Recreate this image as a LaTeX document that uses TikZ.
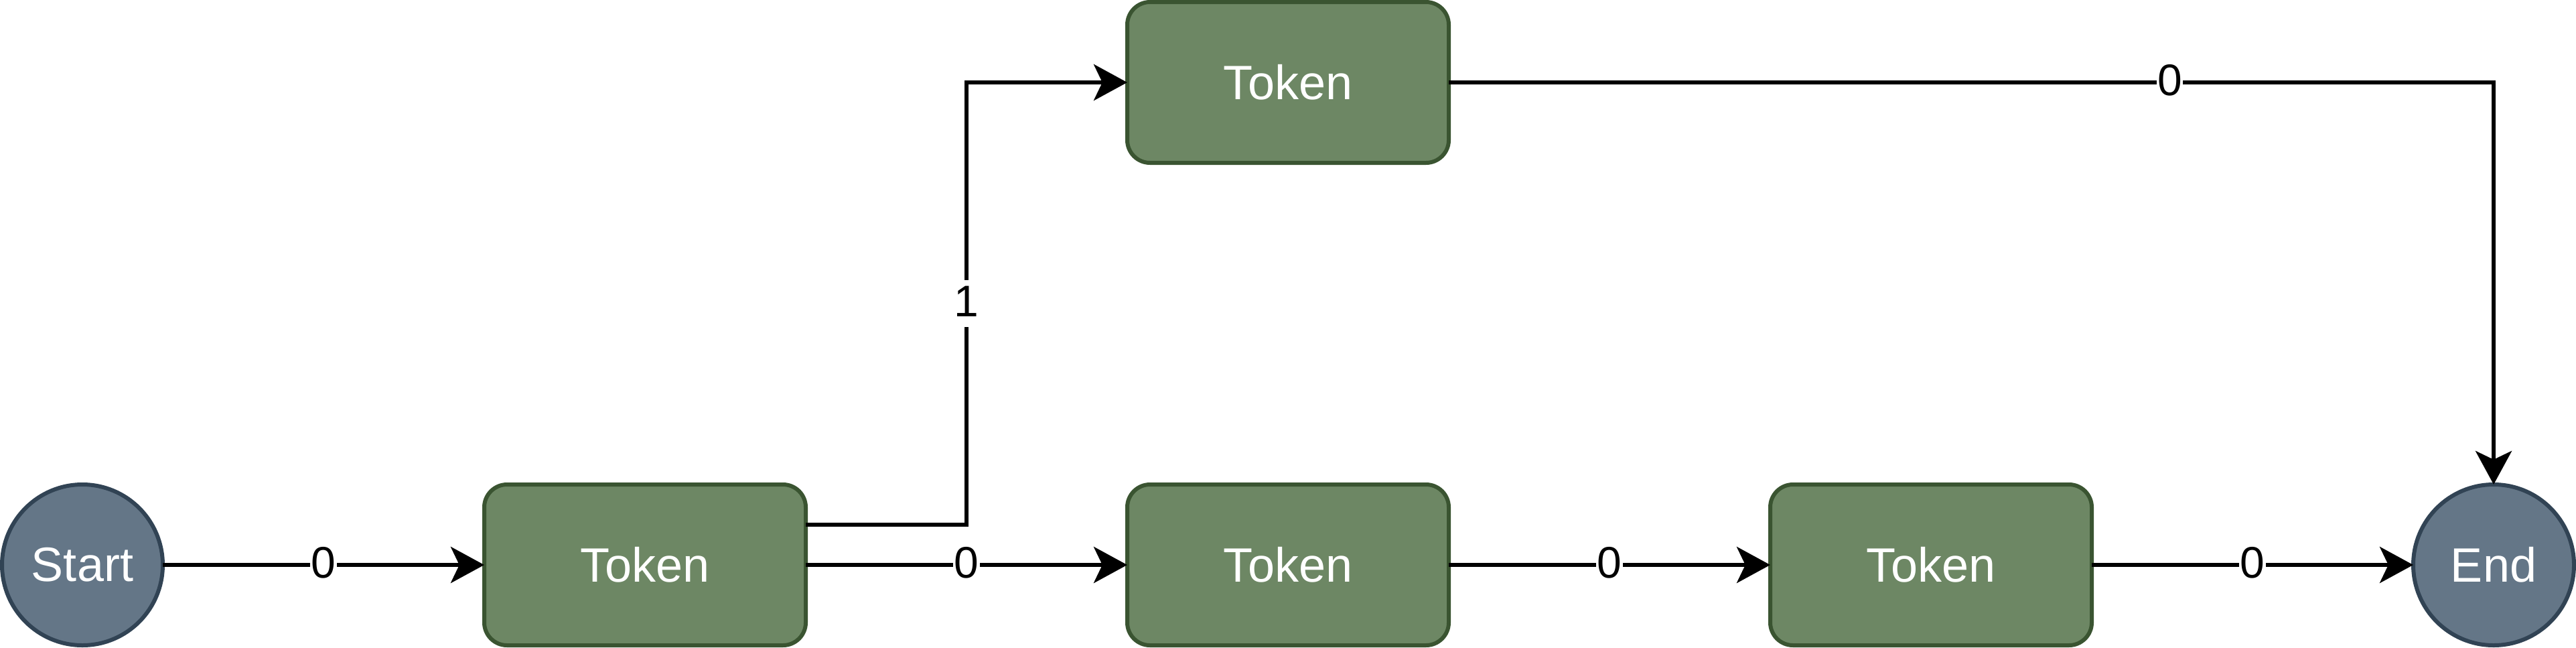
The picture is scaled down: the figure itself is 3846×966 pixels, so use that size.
\documentclass[tikz,border=0pt]{standalone}
\usepackage{fontspec}
\setmainfont{Liberation Sans}
\usetikzlibrary{arrows.meta}
\definecolor{tokfill}{HTML}{6D8764}
\definecolor{tokline}{HTML}{3A5431}
\definecolor{endfill}{HTML}{647687}
\definecolor{endline}{HTML}{314354}
\tikzset{
  tokenbox/.style={draw=tokline, fill=tokfill, line width=1.5pt, rounded corners=8.5pt,
    minimum width=120pt, minimum height=60pt, inner sep=0pt, outer sep=0pt,
    text=white, font=\fontsize{18}{21}\selectfont},
  termnode/.style={circle, draw=endline, fill=endfill, line width=1.5pt,
    minimum size=60pt, inner sep=0pt, outer sep=0pt,
    text=white, font=\fontsize{18}{21}\selectfont},
  edge/.style={draw=black, line width=1.5pt, -{Stealth[length=12.5pt, width=13.5pt, inset=3.2pt]}},
  lbl/.style={fill=white, inner xsep=0.3pt, inner ysep=0pt, text height=13.5pt, text depth=4pt,
    font=\fontsize{16.5}{19}\selectfont, text=black}
}
\begin{document}
\begin{tikzpicture}[x=0.25pt, y=-0.25pt]
\useasboundingbox (0,0) rectangle (3846,966);
\node[termnode] (start) at (123,843) {Start};
\node[tokenbox] (b1) at (963,843) {Token};
\node[tokenbox] (b2) at (1923,843) {Token};
\node[tokenbox] (b3) at (2883,843) {Token};
\node[tokenbox] (top) at (1923,123) {Token};
\node[termnode] (end) at (3723,843) {End};

\draw[edge] (start) -- node[lbl] {0} (b1);
\draw[edge] (b1) -- node[lbl] {0} (b2);
\draw[edge] (b2) -- node[lbl] {0} (b3);
\draw[edge] (b3) -- node[lbl] {0} (end);
\draw[edge] ([yshift=15pt]b1.east) -- ++(240,0) |- node[lbl, pos=0.25] {1} (top.west);
\draw[edge] (top.east) -| node[lbl, pos=0.345] {0} (end.north);
\end{tikzpicture}
\end{document}
